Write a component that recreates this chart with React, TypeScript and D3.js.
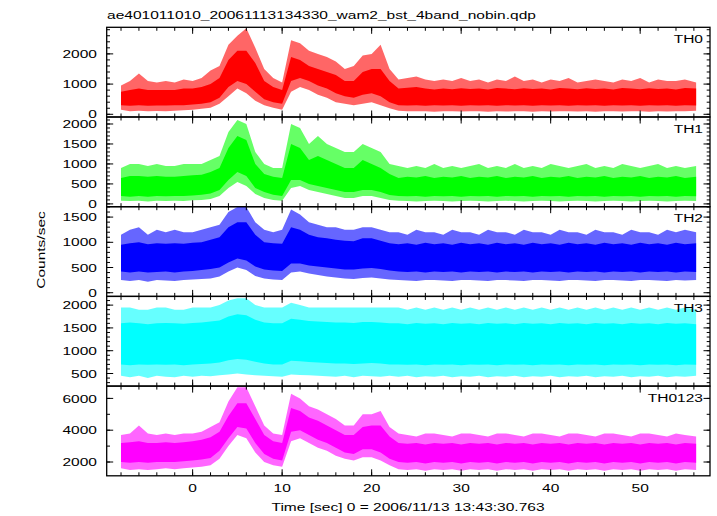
import React from "react";
import * as d3 from "d3";

// time bins (sec)
const TIMES = [-8,-7,-6,-5,-4,-3,-2,-1,0,1,2,3,4,5,6,7,8,9,10,11,12,13,14,15,16,17,18,19,20,21,22,23,24,25,26,27,28,29,30,31,32,33,34,35,36,37,38,39,40,41,42,43,44,45,46,47,48,49,50,51,52,53,54,55,56.25];

// TH0: outer (spike) envelope and inner (dense) band
const TH0_OUT_HI = [950,1100,1350,1100,1050,1100,1050,1150,1100,1200,1450, 1600,2300,2600,2850,2200,1500,1200,1050,2450,2350,2100,2000,1900,1750,1500,1600,1950,2000,2300,1500, 1150,1200,1250,1150,1100,1150,1100,1200,1100,1150,1050,1150,1100,1250,1100,1150,1050,1150,1100,1200,1050,1100,1150,1100,1050,1150,1100,1200,1050,1150,1100,1100,1150,1050];
const TH0_IN_HI = [750,800,850,800,800,800,800,850,850,900,1000, 1200,1800,2100,2100,1700,1100,900,800,1900,1800,1600,1500,1400,1300,1100,1100,1400,1500,1500,1100, 850,880,900,850,820,850,830,860,840,850,820,870,850,830,860,840,850,820,870,850,830,860,840,850,820,870,850,830,860,840,850,820,870,850];
const TH0_IN_LO = [300,280,300,280,290,290,300,300,320,350,400, 550,900,1100,1000,750,500,400,350,1100,1200,1100,950,850,700,600,550,650,700,600,400, 300,290,300,280,300,290,300,280,300,290,300,280,300,290,300,280,300,290,300,280,300,290,300,280,300,290,300,280,300,290,300,280,300,290];
const TH0_OUT_LO = [150,100,120,100,110,100,120,130,150,180,220, 350,600,850,700,450,300,220,150,750,900,800,650,550,400,350,300,350,400,300,200, 120,100,100,100,80,100,100,90,100,100,80,100,90,100,100,80,100,90,100,100,90,100,80,100,100,90,100,100,80,100,90,100,100,120];

const TH1_OUT_HI = [900,1000,1000,950,1000,950,950,1000,1000,1000,1100, 1200,1800,2100,2000,1300,1000,900,900,2000,1900,1500,1700,1500,1400,1300,1300,1500,1400,1300,1000, 950,900,950,900,1000,900,950,900,950,1000,900,950,900,1000,900,950,900,1000,950,900,950,1000,900,950,900,1000,950,900,950,1000,900,950,900,950];
const TH1_IN_HI = [650,700,700,680,700,680,680,700,720,730,800, 900,1400,1700,1600,1000,750,680,650,1500,1400,1100,1200,1100,1000,900,900,1100,1000,900,750, 650,680,660,700,650,680,660,700,650,680,660,700,650,680,660,700,650,680,660,700,650,680,660,700,650,680,660,700,650,680,660,700,650,680];
const TH1_IN_LO = [200,180,200,180,200,190,200,200,210,230,260, 350,600,800,700,400,300,230,200,600,600,500,450,400,350,300,300,350,350,300,220, 200,190,200,180,200,190,200,180,200,190,200,180,200,190,200,180,200,190,200,180,200,190,200,180,200,190,200,180,200,190,200,180,200,190];
const TH1_OUT_LO = [80,70,80,60,80,70,80,70,90,100,120, 200,400,550,450,250,150,100,80,400,450,350,300,250,200,150,150,200,200,150,100, 80,70,60,70,80,70,60,70,80,70,60,70,80,70,60,70,80,70,60,70,80,70,60,70,80,70,60,70,80,70,60,70,80,70];

const TH2_OUT_HI = [1150,1250,1300,1150,1250,1200,1250,1200,1200,1250,1300, 1350,1600,1700,1700,1400,1250,1200,1250,1650,1550,1400,1350,1300,1300,1250,1250,1300,1300,1250,1200, 1200,1150,1250,1200,1200,1150,1250,1200,1200,1150,1250,1200,1200,1150,1250,1200,1200,1150,1250,1200,1200,1150,1250,1200,1200,1150,1250,1200,1200,1150,1250,1200,1250,1200];
const TH2_IN_HI = [950,980,1000,960,980,970,980,970,990,1000,1050, 1100,1300,1400,1400,1150,1000,980,970,1300,1250,1150,1100,1080,1050,1030,1020,1080,1080,1030,980, 960,980,950,990,960,980,950,990,960,980,950,990,960,980,950,990,960,980,950,990,960,980,950,990,960,980,950,990,960,980,950,990,960,980];
const TH2_IN_LO = [420,400,420,400,410,420,400,420,430,450,470, 500,600,680,640,520,460,440,430,580,580,540,520,500,480,460,460,480,490,470,440, 420,410,420,400,420,410,420,400,420,410,420,400,420,410,420,400,420,410,420,400,420,410,420,400,420,410,420,400,420,410,420,400,420,410];
const TH2_OUT_LO = [250,230,250,220,250,240,230,250,260,270,280, 320,420,500,450,330,280,260,250,400,420,380,350,320,300,280,270,290,300,280,260, 250,240,230,250,250,240,230,250,250,240,230,250,250,240,230,250,250,240,230,250,250,240,230,250,250,240,230,250,250,240,230,250,240,250];

const TH3_OUT_HI = [1950,1950,1900,1900,1950,1950,1900,1900,1950,1950,1950, 2000,2100,2150,2150,2000,1950,1950,1950,2050,2000,1950,1950,1950,1950,1950,1950,1950,1950,1950,1950, 1950,1900,1950,1900,1950,1900,1950,1900,1950,1900,1950,1900,1950,1900,1950,1900,1950,1900,1950,1900,1950,1900,1950,1900,1950,1900,1950,1900,1950,1900,1950,1900,1950,1900];
const TH3_IN_HI = [1600,1620,1600,1580,1600,1610,1600,1590,1610,1620,1640, 1660,1750,1800,1780,1680,1620,1600,1600,1700,1680,1650,1640,1630,1620,1620,1610,1630,1630,1620,1600, 1600,1580,1610,1590,1600,1580,1610,1590,1600,1580,1610,1590,1600,1580,1610,1590,1600,1580,1610,1590,1600,1580,1610,1590,1600,1580,1610,1590,1600,1580,1610,1590,1600,1580];
const TH3_IN_LO = [700,680,700,690,700,690,700,680,700,710,720, 740,790,820,800,760,720,700,700,780,770,750,740,730,720,720,710,720,730,720,700, 700,690,700,680,700,690,700,680,700,690,700,680,700,690,700,680,700,690,700,680,700,690,700,680,700,690,700,680,700,690,700,680,700,690];
const TH3_OUT_LO = [450,420,450,400,450,430,420,450,430,450,440, 460,480,500,480,460,450,440,430,480,470,460,450,440,430,450,420,450,440,430,450, 430,450,420,440,430,450,420,440,430,450,420,440,430,450,420,440,430,450,420,440,430,450,420,440,430,450,420,440,430,450,420,440,430,450];

const TH0123_OUT_HI = [3700,3800,4300,3800,3700,3800,3700,3800,3800,3900,4200, 4500,5800,6700,6700,5500,4300,3800,3700,6300,6000,5500,5300,5000,4700,4300,4300,5000,5000,5200,4200, 3800,3700,3600,3800,3800,3700,3600,3800,3800,3700,3600,3800,3800,3700,3600,3800,3800,3700,3600,3800,3800,3700,3600,3800,3800,3700,3600,3800,3800,3700,3600,3800,3700,3600];
const TH0123_IN_HI = [3200,3250,3300,3200,3200,3250,3200,3250,3300,3400,3550, 3900,4900,5700,5700,4700,3700,3300,3200,5400,5200,4800,4600,4300,4000,3700,3700,4200,4300,4300,3600, 3200,3150,3200,3100,3200,3150,3200,3100,3200,3150,3200,3100,3200,3150,3200,3100,3200,3150,3200,3100,3200,3150,3200,3100,3200,3150,3200,3100,3200,3150,3200,3100,3200,3150];
const TH0123_IN_LO = [2000,1950,2000,1950,2000,2000,2000,2050,2100,2150,2250, 2700,3500,4200,4100,3200,2500,2200,2100,3900,4000,3700,3400,3200,2900,2600,2500,2800,2800,2600,2200, 2000,1950,2000,1900,2000,1950,2000,1900,2000,1950,2000,1900,2000,1950,2000,1900,2000,1950,2000,1900,2000,1950,2000,1900,2000,1950,2000,1900,2000,1950,2000,1900,2000,1950];
const TH0123_OUT_LO = [1600,1500,1550,1500,1550,1600,1550,1600,1650,1700,1800, 2200,3000,3700,3500,2600,2000,1800,1700,3300,3500,3200,2900,2700,2400,2200,2100,2300,2300,2100,1800, 1550,1500,1550,1450,1550,1500,1550,1450,1550,1500,1550,1450,1550,1500,1550,1450,1550,1500,1550,1450,1550,1500,1550,1450,1550,1500,1550,1450,1550,1500,1550,1450,1550,1500];

const PANEL_NAMES = ["TH0", "TH1", "TH2", "TH3", "TH0123"];
const PANEL_COLORS = ["#ff0000", "#00ff00", "#0000ff", "#00ffff", "#ff00ff"];
const PANEL_DOMAINS: [number, number][] = [[-90, 2880], [-70, 2175], [-73, 1706], [224, 2191], [1132, 6774]];
const PANEL_MAJOR = [[0, 1000, 2000], [0, 500, 1000, 1500, 2000], [0, 500, 1000, 1500], [500, 1000, 1500, 2000], [2000, 4000, 6000]];
const PANEL_MINOR_STEP = [200, 100, 100, 100, 1000];
const X_MAJOR = [0, 10, 20, 30, 40, 50];

const SERIES = [
  [TH0_OUT_LO, TH0_IN_LO, TH0_IN_HI, TH0_OUT_HI],
  [TH1_OUT_LO, TH1_IN_LO, TH1_IN_HI, TH1_OUT_HI],
  [TH2_OUT_LO, TH2_IN_LO, TH2_IN_HI, TH2_OUT_HI],
  [TH3_OUT_LO, TH3_IN_LO, TH3_IN_HI, TH3_OUT_HI],
  [TH0123_OUT_LO, TH0123_IN_LO, TH0123_IN_HI, TH0123_OUT_HI],
];

const TITLE = "ae401011010_20061113134330_wam2_bst_4band_nobin.qdp";
const XLABEL = "Time [sec] 0 = 2006/11/13 13:43:30.763";
const YLABEL = "Counts/sec";

const W = 717, H = 516;
const LEFT = 106.7, RIGHT = 710, TOP = 27.3, PH = 89.7;
const FONT = "'Liberation Sans', Arial, Helvetica, sans-serif";
const FS = 11.5, SX = 1.35;

function T({ x, y, anchor = "start", children }: any) {
  return (
    <g transform={`translate(${x},${y}) scale(${SX},1)`}>
      <text x={0} y={0} textAnchor={anchor} fontFamily={FONT} fontSize={FS} fill="#000">{children}</text>
    </g>
  );
}

export default function App() {
  const x = d3.scaleLinear().domain([-9.6, 57.8]).range([LEFT, RIGHT]);
  const xMinor = d3.range(-8, 57, 2);
  const panels = PANEL_NAMES.map((name, i) => {
    const top = TOP + i * PH;
    const bot = top + PH;
    const y = d3.scaleLinear().domain(PANEL_DOMAINS[i]).range([bot, top]);
    const [oLo, iLo, iHi, oHi] = SERIES[i];
    const mk = (a: number[], b: number[]) => d3.area<number>()
      .x((_, j) => x(TIMES[j]))
      .y0((_, j) => y(a[j]))
      .y1((_, j) => y(b[j]))
      .curve(d3.curveLinear)(TIMES) || "";
    const [d0, d1] = PANEL_DOMAINS[i];
    const step = PANEL_MINOR_STEP[i];
    const minor = d3.range(Math.ceil(d0 / step) * step, d1, step);
    return (
      <g key={name}>
        <defs>
          <clipPath id={`clip${i}`}><rect x={LEFT} y={top} width={RIGHT - LEFT} height={PH} /></clipPath>
        </defs>
        <g clipPath={`url(#clip${i})`}>
          <path d={mk(oLo, oHi)} fill={PANEL_COLORS[i]} fillOpacity={0.6} />
          <path d={mk(iLo, iHi)} fill={PANEL_COLORS[i]} />
        </g>
        {minor.map(v => (
          <g key={"m" + v}>
            <line x1={LEFT} x2={LEFT + 3.3} y1={y(v)} y2={y(v)} stroke="#000" strokeWidth={1} />
            <line x1={RIGHT} x2={RIGHT - 3.3} y1={y(v)} y2={y(v)} stroke="#000" strokeWidth={1} />
          </g>
        ))}
        {PANEL_MAJOR[i].map(v => (
          <g key={"M" + v}>
            <line x1={LEFT} x2={LEFT + 6.5} y1={y(v)} y2={y(v)} stroke="#000" strokeWidth={1} />
            <line x1={RIGHT} x2={RIGHT - 6.5} y1={y(v)} y2={y(v)} stroke="#000" strokeWidth={1} />
            <T x={97} y={y(v) + 4.2} anchor="end">{String(v)}</T>
          </g>
        ))}
        {xMinor.map(t => (
          <g key={"xm" + t}>
            <line x1={x(t)} x2={x(t)} y1={top} y2={top + 3.5} stroke="#000" strokeWidth={1} />
            <line x1={x(t)} x2={x(t)} y1={bot} y2={bot - 3.5} stroke="#000" strokeWidth={1} />
          </g>
        ))}
        {X_MAJOR.map(t => (
          <g key={"xM" + t}>
            <line x1={x(t)} x2={x(t)} y1={top} y2={top + 6.5} stroke="#000" strokeWidth={1} />
            <line x1={x(t)} x2={x(t)} y1={bot} y2={bot - 6.5} stroke="#000" strokeWidth={1} />
          </g>
        ))}
        <rect x={LEFT} y={top} width={RIGHT - LEFT} height={PH} fill="none" stroke="#000" strokeWidth={1.3} />
        <T x={703} y={top + 15.5} anchor="end">{name}</T>
      </g>
    );
  });
  const bottom = TOP + 5 * PH;
  return (
    <svg width={W} height={H} style={{ position: "absolute", left: 0, top: 0, background: "#fff" }}>
      <rect x={0} y={0} width={W} height={H} fill="#fff" />
      <T x={107} y={19}>{TITLE}</T>
      {panels}
      {X_MAJOR.map(t => (
        <T key={t} x={x(t)} y={bottom + 16.5} anchor="middle">{String(t)}</T>
      ))}
      <T x={408} y={511} anchor="middle">{XLABEL}</T>
      <g transform={`translate(45,250) rotate(-90)`}>
        <text x={0} y={0} textAnchor="middle" fontFamily={FONT} fontSize={FS} fill="#000" transform={`scale(${SX},1)`}>{YLABEL}</text>
      </g>
    </svg>
  );
}
